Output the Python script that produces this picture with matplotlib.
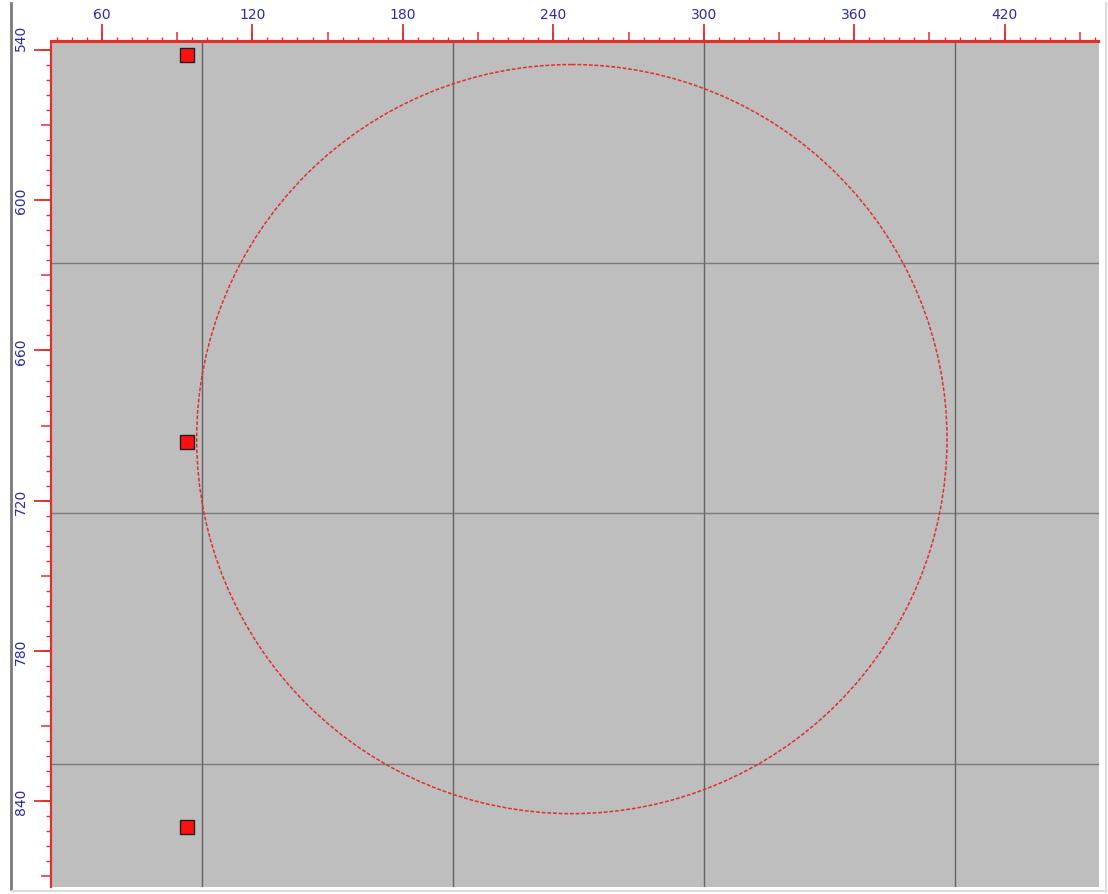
import matplotlib
matplotlib.use("Agg")
import matplotlib.pyplot as plt
from matplotlib.patches import Circle
from matplotlib.lines import Line2D
from matplotlib.ticker import MultipleLocator, NullFormatter

# ---- data ----
x_limits = [39.6, 457.6]
y_limits = [874.3, 536.6]          # inverted (image coordinates)
x_major_ticks = [60, 120, 180, 240, 300, 360, 420]
x_major_labels = ["60", "120", "180", "240", "300", "360", "420"]
y_major_ticks = [540, 600, 660, 720, 780, 840]
y_major_labels = ["540", "600", "660", "720", "780", "840"]
medium_step = 30
minor_step = 6

paper_grid_x = [100, 200, 300, 400]
paper_grid_y = [625, 725, 825]

point_x = [94, 94, 94]
point_y = [542.0, 696.5, 850.3]

circle_cx = 247.4
circle_cy = 695.4
circle_r = 149.6

# ---- style ----
RED = "#e0302c"
BLUE = "#2a2aaa"
PAPER = "#bebebe"

W, H = 1108, 895
fig = plt.figure(figsize=(W / 100, H / 100), dpi=100, facecolor="white")
left, right, top, bottom = 50.7, 1099, 42.5, 888
ax = fig.add_axes([left / W, 1 - bottom / H, (right - left) / W, (bottom - top) / H])
ax.set_facecolor(PAPER)
ax.set_xlim(*x_limits)
ax.set_ylim(*y_limits)

# paper grid lines
for gx in paper_grid_x:
    ax.axvline(gx, color="#555555", lw=1.0, alpha=0.85, zorder=1)
for gy in paper_grid_y:
    ax.axhline(gy, color="#6a6a6a", lw=1.0, alpha=0.8, zorder=1)

# circle overlay
ax.add_patch(Circle((circle_cx, circle_cy), circle_r, fill=False,
                    edgecolor=RED, lw=1.1, linestyle=(0, (2.5, 1.2)), zorder=3))

# points
ax.plot(point_x, point_y, linestyle="none", marker="s", markersize=10,
        markerfacecolor="#ff1010", markeredgecolor="#202020", markeredgewidth=1.0,
        zorder=4, clip_on=False)

# spines
for name, sp in ax.spines.items():
    if name in ("top", "left"):
        sp.set_color(RED)
        sp.set_linewidth(1.5)
    else:
        sp.set_visible(False)

# main axis: medium + minor ticks (no labels)
ax.xaxis.tick_top()
ax.xaxis.set_major_locator(MultipleLocator(medium_step))
ax.xaxis.set_minor_locator(MultipleLocator(minor_step))
ax.yaxis.set_major_locator(MultipleLocator(medium_step))
ax.yaxis.set_minor_locator(MultipleLocator(minor_step))
ax.xaxis.set_major_formatter(NullFormatter())
ax.yaxis.set_major_formatter(NullFormatter())
ax.tick_params(which="major", direction="out", length=7.2, width=1.1, color=RED)
ax.tick_params(which="minor", direction="out", length=3.6, width=1.0, color=RED)

# secondary axes for long labelled ticks
secx = ax.secondary_xaxis("top")
secx.set_xticks(x_major_ticks, x_major_labels)
secx.tick_params(direction="out", length=12.6, width=1.3, color=RED,
                 labelcolor=BLUE, labelsize=10, pad=2.5)
secx.spines["top"].set_color(RED)
secx.spines["top"].set_linewidth(1.5)

secy = ax.secondary_yaxis("left")
secy.set_yticks(y_major_ticks, y_major_labels)
secy.tick_params(direction="out", length=12.6, width=1.3, color=RED,
                 labelcolor=BLUE, labelsize=10, pad=3.5)
secy.spines["left"].set_color(RED)
secy.spines["left"].set_linewidth(1.5)
for i, lab in enumerate(secy.get_yticklabels()):
    lab.set_rotation(90)
    lab.set_ha("right")
    lab.set_va("bottom" if i == 0 else "center")

# window frame lines
fig.add_artist(Line2D([10.7 / W, 10.7 / W], [1 - 890 / H, 1 - 4 / H],
                      color="#7a7a7a", lw=2.0, transform=fig.transFigure))
fig.add_artist(Line2D([1106 / W, 1106 / W], [1 - 893 / H, 1 - 4 / H],
                      color="#dcdcdc", lw=1.5, transform=fig.transFigure))
fig.add_artist(Line2D([12 / W, 1106 / W], [1 - 892 / H, 1 - 892 / H],
                      color="#dcdcdc", lw=1.5, transform=fig.transFigure))

fig.savefig("out.png", dpi=100, facecolor="white")
